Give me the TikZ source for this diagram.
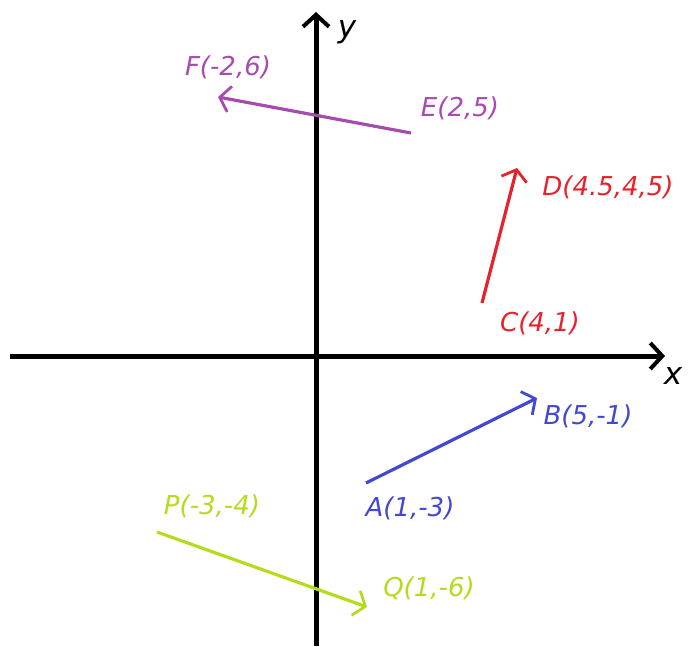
\documentclass[tikz,border=0pt]{standalone}
\usepackage{fontspec}
\setmainfont{DejaVu Sans}
\usetikzlibrary{arrows.meta}
\definecolor{vecpurple}{RGB}{166,76,176}
\definecolor{vecred}{RGB}{232,34,44}
\definecolor{vecblue}{RGB}{66,72,208}
\definecolor{vecgreen}{RGB}{180,220,30}
\tikzset{
  axis/.style={line width=5pt, -{Straight Barb[length=12pt,width=26pt,line width=4pt]}},
  vec/.style={line width=3.2pt, -{Straight Barb[length=10pt,width=26pt,line width=2.8pt]}},
  lbl/.style={font=\fontsize{26}{28}\selectfont\itshape, inner sep=0pt},
  axlbl/.style={font=\fontsize{31}{33}\selectfont\itshape, inner sep=0pt}
}
\begin{document}
\begin{tikzpicture}[x=1pt, y=-1pt]
        \useasboundingbox (0,0) rectangle (696,646);
        % axes
        \coordinate (xl) at (10,356);
        \coordinate (xr) at (665,356);
        \coordinate (yb) at (316,646);
        \coordinate (yt) at (316,12);
        \draw[axis] (xl) -- (xr);
        \draw[axis] (yb) -- (yt);
        \node[axlbl] (xlab) at (673,376) {x};
        \node[axlbl] (ylab) at (347,32) {y};

        % vector points
        \coordinate (E) at (411,133);
        \coordinate (F) at (218,97);
        \coordinate (C) at (482,303);
        \coordinate (D) at (517,168);
        \coordinate (A) at (366,483);
        \coordinate (B) at (537,398);
        \coordinate (P) at (157,532);
        \coordinate (Q) at (367,607);

        \draw[vec, vecpurple] (E) -- (F);
        \draw[vec, vecred] (C) -- (D);
        \draw[vec, vecblue] (A) -- (B);
        \draw[vec, vecgreen] (P) -- (Q);

        % labels
        \node[lbl, vecpurple] (Flab) at (228,67) {F(-2,6)};
        \node[lbl, vecpurple] (Elab) at (460,108) {E(2,5)};
        \node[lbl, vecred] (Dlab) at (608,187) {D(4.5,4,5)};
        \node[lbl, vecred] (Clab) at (540,323) {C(4,1)};
        \node[lbl, vecblue] (Blab) at (588,416) {B(5,-1)};
        \node[lbl, vecblue] (Alab) at (410,508) {A(1,-3)};
        \node[lbl, vecgreen] (Plab) at (212,506) {P(-3,-4)};
        \node[lbl, vecgreen] (Qlab) at (429,588) {Q(1,-6)};
\end{tikzpicture}
\end{document}
